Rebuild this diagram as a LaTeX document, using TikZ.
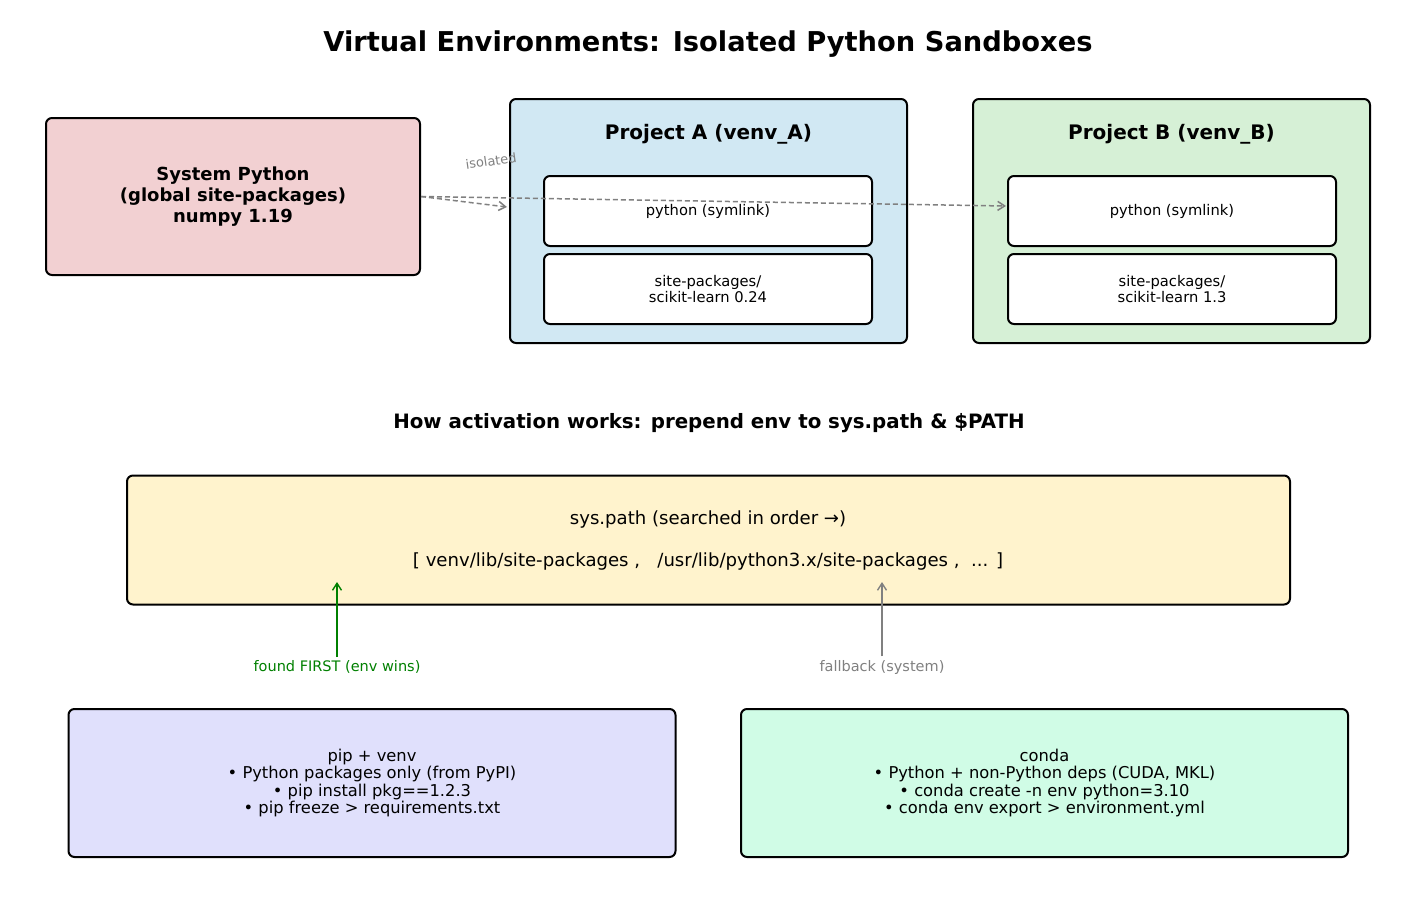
\documentclass[tikz,border=0pt]{standalone}
\usepackage{fontspec}
\setmainfont{DejaVu Sans}
\usetikzlibrary{arrows.meta}

\definecolor{sysfill}{HTML}{F2D0D2}
\definecolor{afill}{HTML}{D1E8F3}
\definecolor{bfill}{HTML}{D6F0D6}
\definecolor{pathfill}{HTML}{FFF3CD}
\definecolor{pipfill}{HTML}{E0E0FC}
\definecolor{condafill}{HTML}{D0FCE6}
\definecolor{fgreen}{HTML}{008000}
\definecolor{fgray}{HTML}{808080}

\newcommand{\fsz}[2]{\fontsize{#1}{#2}\selectfont}

\begin{document}
\begin{tikzpicture}[x=1pt,y=-1pt,>={Straight Barb[length=7pt,width=9pt]},
  box/.style={draw,line width=2pt,rounded corners=6pt,align=center,inner sep=0pt},
  inner box/.style={box,fill=white,minimum width=328pt,minimum height=70pt,font=\fsz{14.7}{16.5}},
  env title/.style={font=\fsz{20}{24}\bfseries},
  info box/.style={box,minimum width=607pt,minimum height=148pt,font=\fsz{16.3}{17.2}},
  iso/.style={->,dashed,dash pattern=on 5pt off 3pt,line width=1.5pt,fgray},
  hint/.style={font=\fsz{14.5}{16}}]
  \useasboundingbox (0,0) rectangle (1417,897);

  % title
  \node[font=\fsz{27.3}{32}\bfseries] (title) at (708,44) {Virtual Environments: Isolated Python Sandboxes};

  % system python and the two envs
  \node[box,fill=sysfill,minimum width=374pt,minimum height=157pt,font=\fsz{18}{21.3}\bfseries] (sys) at (233,196.5)
    {System Python\\(global site-packages)\\numpy 1.19};
  \node[box,fill=afill,minimum width=397pt,minimum height=244pt] (projA) at (708.5,221) {};
  \node[env title] (projAtitle) at (708.5,134) {Project A (venv\_A)};
  \node[inner box] (a1) at (708,211) {python (symlink)};
  \node[inner box] (a2) at (708,289) {site-packages/\\scikit-learn 0.24};
  \node[box,fill=bfill,minimum width=397pt,minimum height=244pt] (projB) at (1171.5,221) {};
  \node[env title] (projBtitle) at (1171.5,134) {Project B (venv\_B)};
  \node[inner box] (b1) at (1172,211) {python (symlink)};
  \node[inner box] (b2) at (1172,289) {site-packages/\\scikit-learn 1.3};

  \coordinate (aIn) at (507,207);
  \coordinate (bIn) at (1006,206);
  \draw[iso] (sys.east) -- (aIn);
  \draw[iso] (sys.east) -- (bIn);
  \node[font=\fsz{13}{14},fgray,rotate=8] (isolbl) at (491,161) {isolated};

  % activation
  \node[font=\fsz{19.8}{23}\bfseries] (howto) at (709,423) {How activation works: prepend env to sys.path \& \$PATH};
  \node[box,fill=pathfill,minimum width=1163pt,minimum height=129pt] (syspath) at (708.5,540) {};
  \node[font=\fsz{18.1}{21}] (pathhead) at (708,520) {sys.path (searched in order →)};
  \node[font=\fsz{18.1}{21}] (pathlist) at (708,561)
    {[ venv/lib/site-packages ,\ \ \ /usr/lib/python3.x/site-packages ,\ \ ... ]};

  \coordinate (envHit) at (337,582);
  \coordinate (sysHit) at (882,582);
  \node[hint,fgreen] (foundlbl) at (337,667) {found FIRST (env wins)};
  \node[hint,fgray] (fallbacklbl) at (882,667) {fallback (system)};
  \draw[->,fgreen,line width=1.4pt] (foundlbl.north) -- (envHit);
  \draw[->,fgray,line width=1.4pt] (fallbacklbl.north) -- (sysHit);

  % tools
  \node[info box,fill=pipfill] (pip) at (372,783)
    {pip + venv\\• Python packages only (from PyPI)\\• pip install pkg==1.2.3\\• pip freeze > requirements.txt};
  \node[info box,fill=condafill] (conda) at (1044.5,783)
    {conda\\• Python + non-Python deps (CUDA, MKL)\\• conda create -n env python=3.10\\• conda env export > environment.yml};
\end{tikzpicture}
\end{document}
